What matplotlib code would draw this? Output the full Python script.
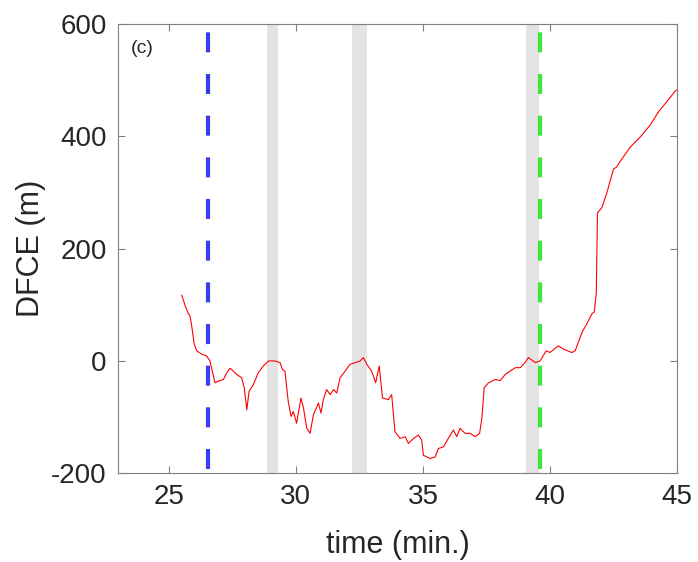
import numpy as np
import matplotlib.pyplot as plt

plt.rcParams['font.family'] = ['Liberation Sans', 'DejaVu Sans']
plt.rcParams['axes.unicode_minus'] = False

# DFCE trace
time_min = [25.51, 25.64, 25.77, 25.83, 25.9, 26.0, 26.1, 26.3, 26.49, 26.62,
            26.71, 26.82, 26.95, 27.15, 27.28, 27.41, 27.54, 27.67, 27.87, 27.97,
            28.07, 28.16, 28.33, 28.52, 28.72, 28.92, 29.18, 29.38, 29.47, 29.57,
            29.7, 29.81, 29.9, 30.03, 30.2, 30.3, 30.43, 30.56, 30.69, 30.89,
            30.99, 31.08, 31.21, 31.35, 31.48, 31.61, 31.74, 31.94, 32.13, 32.33,
            32.53, 32.66, 32.79, 32.98, 33.14, 33.28, 33.41, 33.64, 33.77, 33.9,
            34.1, 34.3, 34.43, 34.63, 34.82, 34.95, 35.02, 35.28, 35.48, 35.61,
            35.81, 36.0, 36.2, 36.33, 36.46, 36.66, 36.86, 37.06, 37.23, 37.32,
            37.41, 37.58, 37.84, 38.04, 38.24, 38.43, 38.63, 38.83, 39.02, 39.15,
            39.42, 39.61, 39.85, 40.0, 40.33, 40.53, 40.86, 40.99, 41.26, 41.45,
            41.65, 41.74, 41.82, 41.87, 42.04, 42.24, 42.5, 42.61, 42.83, 43.16,
            43.55, 43.94, 44.27, 44.6, 44.93, 45.0]
dfce = [117, 99, 84, 81, 63, 30, 18, 12, 9, 0,
        -18, -39, -36, -33, -21, -13, -18, -24, -30, -48,
        -87, -54, -42, -21, -9, 0, 0, -3, -15, -18,
        -72, -99, -90, -111, -66, -84, -120, -129, -96, -75,
        -93, -69, -51, -60, -51, -57, -30, -18, -6, -3,
        0, 6, -6, -18, -39, -9, -66, -69, -60, -126,
        -138, -135, -147, -138, -132, -141, -168, -174, -171, -156,
        -153, -138, -123, -135, -120, -129, -129, -135, -129, -102,
        -48, -39, -33, -35, -24, -18, -12, -12, -3, 6,
        -3, 0, 18, 15, 27, 21, 15, 18, 51, 66,
        84, 87, 120, 264, 273, 300, 342, 345, 360, 381,
        399, 420, 444, 462, 481, 483]

gray_bands = [(28.87, 29.3), (32.2, 32.8), (39.06, 39.57)]
t_blue = 26.55
t_green = 39.6

fig = plt.figure(figsize=(6.98, 5.62), dpi=100)
ax = fig.add_axes([0.169, 0.158, 0.801, 0.799])

for a, b in gray_bands:
    ax.axvspan(a, b, color='#e3e3e3', lw=0, zorder=0)

ax.plot([t_blue, t_blue], [600, -200], color='#3c3cf0', lw=3,
        linestyle=(8, (4.8, 5.2)), zorder=2)
ax.plot([t_green, t_green], [600, -200], color='#3ce63c', lw=3,
        linestyle=(8, (4.8, 5.2)), zorder=2)

ax.plot(time_min, dfce, color='red', lw=0.8, zorder=3)

ax.set_xlim(23, 45)
ax.set_ylim(-200, 600)
ax.set_xticks([25, 30, 35, 40, 45])
ax.set_yticks([-200, 0, 200, 400, 600])
ax.tick_params(direction='in', length=5, width=0.8, top=True, right=True,
               labelsize=20, colors='#808080', labelcolor='#262626', pad=8)
for s in ax.spines.values():
    s.set_color('#808080')
    s.set_linewidth(0.8)

ax.set_xlabel('time (min.)', fontsize=22, color='#262626', labelpad=14)
ax.set_ylabel('DFCE (m)', fontsize=22, color='#262626', labelpad=4)
ax.text(0.022, 0.965, '(c)', transform=ax.transAxes, fontsize=14,
        va='top', ha='left', color='#262626')

fig.savefig('out.png', dpi=100)
